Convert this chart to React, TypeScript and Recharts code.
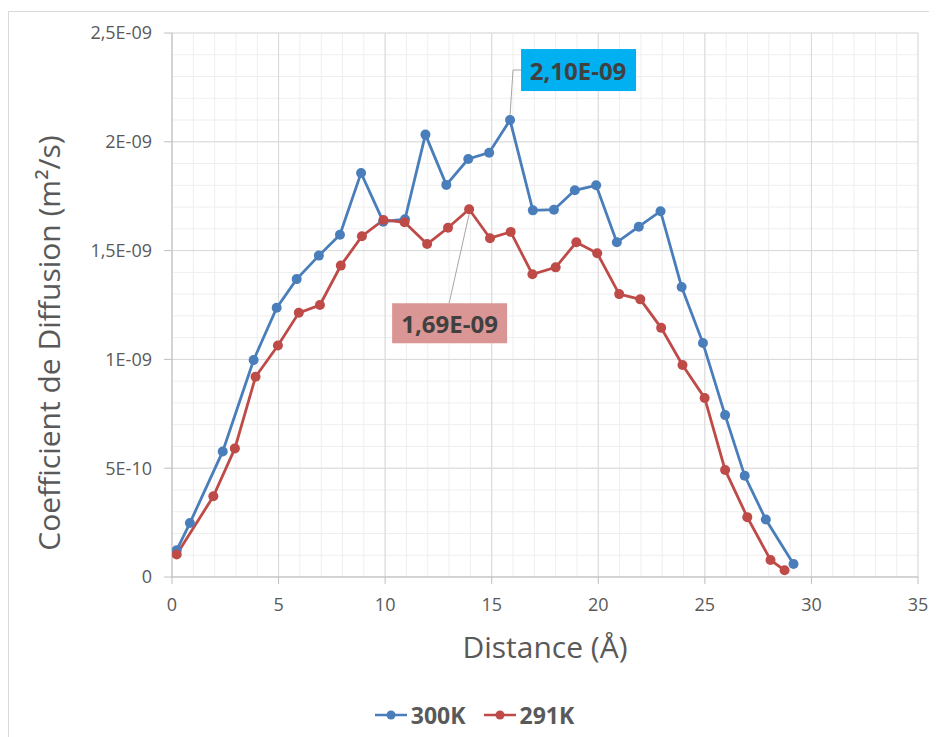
import React from "react";
import { LineChart, Line, XAxis, YAxis, CartesianGrid, Legend, LabelList } from "recharts";

// values are read in units of 1E-9 m²/s
const UNIT = 1e-9;

const dist300 = [0.22, 0.84, 2.38, 3.83, 4.91, 5.85, 6.89, 7.88, 8.87, 9.91, 10.93, 11.89, 12.87, 13.9, 14.88, 15.86, 16.93, 17.92, 18.9, 19.9, 20.87, 21.9, 22.92, 23.91, 24.91, 25.95, 26.87, 27.86, 29.16];
const coef300 = [0.123, 0.248, 0.577, 0.997, 1.237, 1.369, 1.477, 1.573, 1.857, 1.633, 1.644, 2.033, 1.802, 1.921, 1.95, 2.1, 1.685, 1.688, 1.777, 1.8, 1.538, 1.61, 1.681, 1.333, 1.075, 0.744, 0.465, 0.264, 0.06];

const dist291 = [0.22, 1.94, 2.95, 3.92, 4.97, 5.95, 6.94, 7.92, 8.91, 9.92, 10.91, 11.97, 12.95, 13.94, 14.92, 15.89, 16.91, 18.0, 18.97, 19.95, 20.98, 21.97, 22.95, 23.95, 24.99, 25.95, 26.99, 28.08, 28.74];
const coef291 = [0.103, 0.371, 0.591, 0.92, 1.064, 1.214, 1.25, 1.431, 1.566, 1.641, 1.63, 1.53, 1.605, 1.69, 1.557, 1.586, 1.391, 1.423, 1.538, 1.488, 1.3, 1.276, 1.145, 0.974, 0.823, 0.492, 0.275, 0.078, 0.031];

const seriesNames = ["300K", "291K"];
const xDomain = [0, 35];
const yDomain = [0, 2.5];
const xTicks = [0, 5, 10, 15, 20, 25, 30, 35];
const yTicks = [0, 0.5, 1, 1.5, 2, 2.5];

const data300 = dist300.map((x, i) => ({ x, d: coef300[i] * UNIT }));
const data291 = dist291.map((x, i) => ({ x, d: coef291[i] * UNIT }));
const peak300 = coef300.indexOf(Math.max(...coef300));
const peak291 = coef291.indexOf(Math.max(...coef291));

// minor gridlines every 1 Å and every 1E-10
const minorX = Array.from({ length: 36 }, (_, i) => i);
const minorY = Array.from({ length: 26 }, (_, i) => i * 0.1);

const FONT = "'Open Sans', sans-serif";
const TEXT = "#595959";
const BLUE = "#4A7EBB";
const RED = "#BE4B48";

// Excel-like scientific format: 2,5E-09, 5E-10, 0
const sci = (v: number, fixed?: number) => {
  if (Math.abs(v) < 1e-15) return "0";
  const e = Math.floor(Math.log10(Math.abs(v)) + 1e-9);
  const m = v / Math.pow(10, e);
  let s = fixed !== undefined ? m.toFixed(fixed) : String(parseFloat(m.toFixed(3)));
  s = s.replace(".", ",");
  return `${s}E${e < 0 ? "-" : "+"}${String(Math.abs(e)).padStart(2, "0")}`;
};

// minor grid positions from the plot box
const minorVertical = (p: any) =>
  minorX.map((v) => p.offset.left + ((v - xDomain[0]) / (xDomain[1] - xDomain[0])) * p.offset.width);
const minorHorizontal = (p: any) =>
  minorY.map((v) => p.offset.top + p.offset.height - ((v - yDomain[0]) / (yDomain[1] - yDomain[0])) * p.offset.height);

const BluePeak = (p: any) => {
  if (p.index !== peak300) return null;
  const x = Number(p.x);
  const y = Number(p.y);
  return (
    <g>
      <polyline points={`${x},${y - 5} ${x + 3},${y - 50} ${x + 11},${y - 50}`} fill="none" stroke="#A6A6A6" strokeWidth={1} />
      <rect x={x + 11} y={y - 71} width={115} height={42} fill="#00B0F0" />
      <text x={x + 68} y={y - 50} textAnchor="middle" dominantBaseline="central" fontFamily={FONT} fontWeight={700} fontSize={24} fill="#404040">
        {sci(Number(p.value), 2)}
      </text>
    </g>
  );
};

const RedPeak = (p: any) => {
  if (p.index !== peak291) return null;
  const x = Number(p.x);
  const y = Number(p.y);
  return (
    <g>
      <line x1={x} y1={y + 5} x2={x - 20} y2={y + 94} stroke="#A6A6A6" strokeWidth={1} />
      <rect x={x - 77} y={y + 94} width={115} height={40} fill="#DA9694" />
      <text x={x - 19.5} y={y + 114} textAnchor="middle" dominantBaseline="central" fontFamily={FONT} fontWeight={700} fontSize={24} fill="#404040">
        {sci(Number(p.value), 2)}
      </text>
    </g>
  );
};

const YTitle = (props: any) => {
  const { x, y, height } = props.viewBox;
  const cx = x + 39;
  const cy = y + height / 2 + 38;
  return (
    <text x={cx} y={cy} transform={`rotate(-90 ${cx} ${cy})`} textAnchor="middle" dominantBaseline="central" fontFamily={FONT} fontSize={30} fill={TEXT}>
      Coefficient de Diffusion (m²/s)
    </text>
  );
};

const XTitle = (props: any) => {
  const { x, y, width } = props.viewBox;
  return (
    <text x={x + width / 2} y={y + 81} textAnchor="middle" fontFamily={FONT} fontSize={30} fill={TEXT}>
      Distance (Å)
    </text>
  );
};

const LegendContent = (props: any) => {
  const items = seriesNames
    .map((n) => (props.payload || []).find((e: any) => e.value === n))
    .filter(Boolean);
  return (
    <div style={{ display: "flex", justifyContent: "center", alignItems: "center", height: 40, paddingLeft: 40, fontFamily: FONT, fontWeight: 700, fontSize: 23, color: TEXT }}>
      {items.map((e: any) => (
        <span key={e.value} style={{ display: "flex", alignItems: "center", marginRight: 18 }}>
          <svg width={32} height={10}>
            <line x1={0} y1={5} x2={32} y2={5} stroke={e.color} strokeWidth={2.5} />
            <circle cx={16} cy={5} r={4.5} fill={e.color} />
          </svg>
          <span style={{ marginLeft: 4 }}>{e.value}</span>
        </span>
      ))}
    </div>
  );
};

export default function App() {
  return (
    <div style={{ marginTop: 3, width: 929, height: 726, borderTop: "1px solid #D9D9D9", borderLeft: "1px solid #D9D9D9", boxSizing: "border-box", background: "#fff" }}>
      <LineChart width={928} height={725} margin={{ top: 21, right: 19, left: 0, bottom: 2 }}>
        <CartesianGrid stroke="#EEEEEE" strokeWidth={1} verticalCoordinatesGenerator={minorVertical} horizontalCoordinatesGenerator={minorHorizontal} />
        <CartesianGrid stroke="#D9D9D9" strokeWidth={1} />
        <XAxis
          dataKey="x"
          type="number"
          domain={xDomain}
          ticks={xTicks}
          interval={0}
          allowDataOverflow
          height={118}
          tickSize={7}
          tickMargin={14}
          stroke="#BFBFBF"
          tick={{ fill: TEXT, fontSize: 18, fontFamily: FONT }}
          label={<XTitle />}
        />
        <YAxis
          type="number"
          domain={yDomain.map((t) => t * UNIT)}
          ticks={yTicks.map((t) => t * UNIT)}
          interval={0}
          allowDataOverflow
          width={163}
          tickSize={8}
          tickMargin={12}
          stroke="#BFBFBF"
          tickFormatter={(v: number) => sci(v)}
          tick={{ fill: TEXT, fontSize: 18, fontFamily: FONT }}
          label={<YTitle />}
        />
        <Legend verticalAlign="bottom" content={<LegendContent />} />
        <Line data={data300} dataKey="d" name="300K" stroke={BLUE} strokeWidth={2.8} dot={{ r: 5, fill: BLUE, stroke: BLUE, strokeWidth: 0 }} activeDot={false} isAnimationActive={false}>
          <LabelList dataKey="d" content={<BluePeak />} />
        </Line>
        <Line data={data291} dataKey="d" name="291K" stroke={RED} strokeWidth={2.8} dot={{ r: 5, fill: RED, stroke: RED, strokeWidth: 0 }} activeDot={false} isAnimationActive={false}>
          <LabelList dataKey="d" content={<RedPeak />} />
        </Line>
      </LineChart>
    </div>
  );
}
